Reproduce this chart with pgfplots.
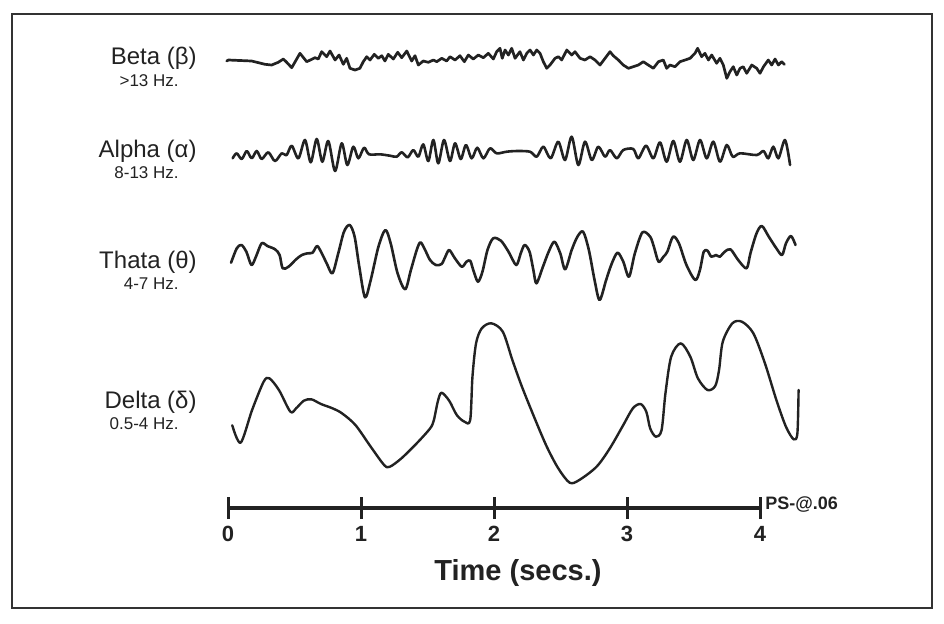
\documentclass[border=0pt]{standalone}
\usepackage{pgfplots}
\pgfplotsset{compat=1.18}
\usepackage{fontspec}
\setmainfont{Liberation Sans}

\definecolor{ink}{HTML}{222222}

\begin{document}
\begin{tikzpicture}[
  bandlabel/.style={anchor=east, font=\fontsize{12}{12}\selectfont, text=ink, inner sep=0pt},
  sublabel/.style={anchor=east, font=\fontsize{8.5}{8.5}\selectfont, text=ink, inner sep=0pt},
]
% frame = axis box, y in image rows (reversed), x in seconds
\begin{axis}[
  name=main,
  scale only axis,
  width=460pt, height=297pt,
  xmin=-1.6241, xmax=5.2932,
  ymin=14, ymax=608,
  y dir=reverse,
  ticks=none,
  axis line style={line width=1pt, draw=black!80},
  every axis plot/.append style={ink, line join=round, line cap=round},
]
% Beta
\addplot[line width=1.35pt] coordinates {
(-0.010,61) (0.003,60) (0.178,61) (0.278,64.3) (0.328,65) (0.378,62.3) (0.416,59) (0.441,62.3)
(0.479,67.7) (0.541,53.3) (0.592,61.7) (0.654,57.7) (0.679,59) (0.704,51.7) (0.742,56.7) (0.767,51)
(0.805,60) (0.835,55) (0.867,64.3) (0.892,58.3) (0.917,68.3) (0.955,70) (0.992,68.3) (1.017,61.7)
(1.043,56.7) (1.068,60) (1.100,54.3) (1.130,58.3) (1.156,55.7) (1.180,61) (1.205,54.3) (1.243,59)
(1.276,52.3) (1.306,57.7) (1.344,51) (1.381,61) (1.406,55.7) (1.431,65) (1.468,61) (1.506,62.3)
(1.544,60) (1.569,61.7) (1.607,58.3) (1.644,61) (1.669,56.7) (1.707,60) (1.744,55.7) (1.777,61.7)
(1.807,55) (1.844,59) (1.882,55) (1.920,57.7) (1.957,53.3) (1.995,59) (2.020,51.7) (2.045,48.3)
(2.062,58.3) (2.083,50) (2.108,55) (2.133,48.3) (2.158,58.3) (2.195,51.7) (2.221,60) (2.246,53.3)
(2.271,50) (2.296,55) (2.321,50) (2.346,53.3) (2.371,61.7) (2.396,68.3) (2.421,65) (2.459,58.3)
(2.484,56.7) (2.509,60) (2.547,50) (2.584,55) (2.609,51.7) (2.647,58.3) (2.684,60) (2.722,56.7)
(2.759,60) (2.797,65) (2.835,58.3) (2.872,51.7) (2.897,55.7) (2.935,60) (2.972,65) (3.010,68.3)
(3.047,66.7) (3.085,65) (3.123,61.7) (3.160,65) (3.198,68.3) (3.236,61.7) (3.273,60) (3.298,68.3)
(3.323,65) (3.361,66.7) (3.398,61.7) (3.436,60) (3.474,58.3) (3.511,53.3) (3.531,48.3) (3.561,56.7)
(3.586,53.3) (3.612,60) (3.637,55) (3.674,63.3) (3.699,58.3) (3.724,65) (3.750,78.3) (3.774,71.7)
(3.799,66.7) (3.825,75) (3.850,68.3) (3.874,66.7) (3.900,73.3) (3.938,65) (3.975,68.3) (4.000,73.3)
(4.026,66.7) (4.062,60) (4.088,65) (4.113,59) (4.138,65) (4.163,61.7) (4.183,64.3)
};
% Alpha
\addplot[line width=1.3pt, smooth] coordinates {
(0.035,158.3) (0.065,153.3) (0.103,159) (0.141,151) (0.178,158.3) (0.216,151) (0.253,159) (0.303,152.3)
(0.353,161) (0.404,153.3) (0.441,155) (0.479,145.7) (0.529,158.3) (0.579,140) (0.622,162.3) (0.667,139)
(0.709,161.7) (0.754,141) (0.805,171) (0.855,143.3) (0.897,165) (0.942,146.7) (0.980,158.3) (1.023,147.7)
(1.060,154.3) (1.143,154.3) (1.218,155.7) (1.268,156.7) (1.306,152.3) (1.351,157.3) (1.393,150) (1.431,156.7)
(1.468,144.3) (1.506,161) (1.544,140) (1.581,163.3) (1.624,140) (1.669,161) (1.707,143.3) (1.750,159)
(1.789,145) (1.832,158.3) (1.874,147.7) (1.920,158.3) (1.970,148.3) (2.020,153.3) (2.095,151.7) (2.171,151)
(2.271,151.7) (2.321,156.7) (2.371,146.7) (2.426,158.3) (2.483,141.7) (2.534,160) (2.584,136.7) (2.634,165)
(2.684,141.7) (2.735,160) (2.784,146.7) (2.835,156.7) (2.872,150) (2.923,158.3) (2.972,150) (3.047,149)
(3.085,158.3) (3.143,145.7) (3.198,158.3) (3.248,142.3) (3.298,161.7) (3.348,141) (3.398,161.7) (3.449,140)
(3.498,160) (3.549,140) (3.599,158.3) (3.649,141.7) (3.699,161.7) (3.750,145) (3.795,156.7) (3.850,153.3)
(3.975,155) (4.026,151) (4.062,158.3) (4.100,146.7) (4.138,158.3) (4.188,140) (4.226,165)
};
% Theta
\addplot[line width=1.3pt, smooth] coordinates {
(0.023,262.7) (0.066,248.3) (0.101,245) (0.138,251.7) (0.176,265) (0.210,256.7) (0.253,243.3) (0.296,246)
(0.354,249.3) (0.388,255) (0.411,268.3) (0.455,266.7) (0.512,259.3) (0.555,255) (0.598,253.3) (0.636,252.7)
(0.670,246) (0.705,253.3) (0.742,263.3) (0.785,273.3) (0.829,253.3) (0.872,231.7) (0.915,225) (0.952,236.7)
(0.987,266.7) (1.030,297.3) (1.073,280) (1.131,246.7) (1.183,230) (1.223,243.3) (1.275,273.3) (1.332,289.3)
(1.375,270) (1.419,250) (1.447,242.3) (1.482,250) (1.519,260) (1.562,265) (1.606,264) (1.634,256.7)
(1.663,250) (1.706,258.3) (1.758,266.7) (1.793,261.7) (1.821,260.7) (1.844,270) (1.879,281.7) (1.913,271.7)
(1.951,250) (1.994,238.3) (2.052,240.7) (2.109,251.7) (2.167,265) (2.201,253.3) (2.230,245) (2.267,251.7)
(2.296,270) (2.319,283.3) (2.368,266.7) (2.411,251.7) (2.454,241.7) (2.498,253.3) (2.535,269.3) (2.584,250)
(2.627,236.7) (2.670,231.7) (2.713,250) (2.756,280) (2.794,300) (2.843,280) (2.886,263.3) (2.929,252.7)
(2.972,261.7) (3.015,276.7) (3.059,253.3) (3.116,232.3) (3.174,236.7) (3.202,246.7) (3.237,261.7) (3.274,256.7)
(3.303,251.7) (3.346,236.7) (3.390,243.3) (3.447,265) (3.513,280) (3.548,270) (3.577,251.7) (3.605,250.7)
(3.634,256.7) (3.669,255) (3.697,256.7) (3.735,251.7) (3.778,249.3) (3.836,260) (3.899,268.3) (3.928,253.3)
(3.974,233.3) (4.014,226) (4.066,236.7) (4.123,248.3) (4.166,255) (4.195,243.3) (4.233,236) (4.267,245)
};
% Delta
\addplot[line width=1.2pt, smooth] coordinates {
(0.032,425.3) (0.095,442.7) (0.181,410) (0.268,381.7) (0.311,378.3) (0.383,390) (0.469,411.7) (0.512,408.3)
(0.570,400.7) (0.627,399.3) (0.699,404) (0.786,408.3) (0.857,413.3) (0.958,425) (1.073,446.7) (1.174,465)
(1.217,466.7) (1.304,458.3) (1.419,443.3) (1.520,428.3) (1.548,420) (1.577,401.7) (1.605,392.7) (1.663,400.7)
(1.720,415) (1.778,421.7) (1.821,420) (1.838,376.7) (1.865,343.3) (1.908,328.3) (1.980,323.3) (2.066,331.7)
(2.138,360) (2.210,386.7) (2.311,420) (2.397,446.7) (2.483,468.3) (2.569,482.7) (2.641,480) (2.771,466.7)
(2.871,448.3) (2.972,425) (3.044,408.3) (3.102,404) (3.145,411.7) (3.174,428.3) (3.217,436.7) (3.260,430)
(3.289,393.3) (3.332,356.7) (3.404,343.3) (3.476,356.7) (3.533,378.3) (3.605,390) (3.663,386) (3.692,370)
(3.720,341.7) (3.792,323.3) (3.864,321.7) (3.950,333.3) (4.037,363.3) (4.123,400) (4.195,426.7) (4.253,439.3)
(4.281,433.3) (4.290,390)
};
% band labels
\node[bandlabel] at (axis cs:-0.233,58) {Beta (β)};
\node[sublabel] at (axis cs:-0.368,81) {>13 Hz.};
\node[bandlabel] at (axis cs:-0.233,151) {Alpha (α)};
\node[sublabel] at (axis cs:-0.368,173) {8-13 Hz.};
\node[bandlabel] at (axis cs:-0.233,262) {Thata (θ)};
\node[sublabel] at (axis cs:-0.368,284) {4-7 Hz.};
\node[bandlabel] at (axis cs:-0.233,402) {Delta (δ)};
\node[sublabel] at (axis cs:-0.368,424) {0.5-4 Hz.};
\coordinate (t0) at (axis cs:0,508);
\end{axis}
% time scale bar
\begin{axis}[
  at={(t0)}, anchor=origin,
  scale only axis,
  width=266pt, height=10pt,
  xmin=0, xmax=4, ymin=0, ymax=1,
  axis x line=bottom,
  hide y axis,
  axis line style={-, line width=2pt, draw=ink},
  xtick={0,1,2,3,4},
  tick align=center,
  major tick length=11pt,
  every tick/.style={line width=1.5pt, draw=ink},
  /pgf/number format/assume math mode=true,
  xticklabel style={font=\fontsize{11}{11}\selectfont\bfseries, text=ink},
  xlabel={Time (secs.)},
  xlabel style={font=\fontsize{14.5}{14.5}\selectfont\bfseries, text=ink, yshift=-2pt, xshift=12pt},
  clip=false,
]
\node[anchor=west, font=\fontsize{9}{9}\selectfont\bfseries, text=ink, inner sep=1pt, xshift=1.5pt, yshift=1.5pt] at (axis cs:4,0) {PS-@.06};
\end{axis}
\path ([shift={(-6pt,-7.5pt)}]main.south west) rectangle ([shift={(6pt,7pt)}]main.north east);
\end{tikzpicture}
\end{document}
